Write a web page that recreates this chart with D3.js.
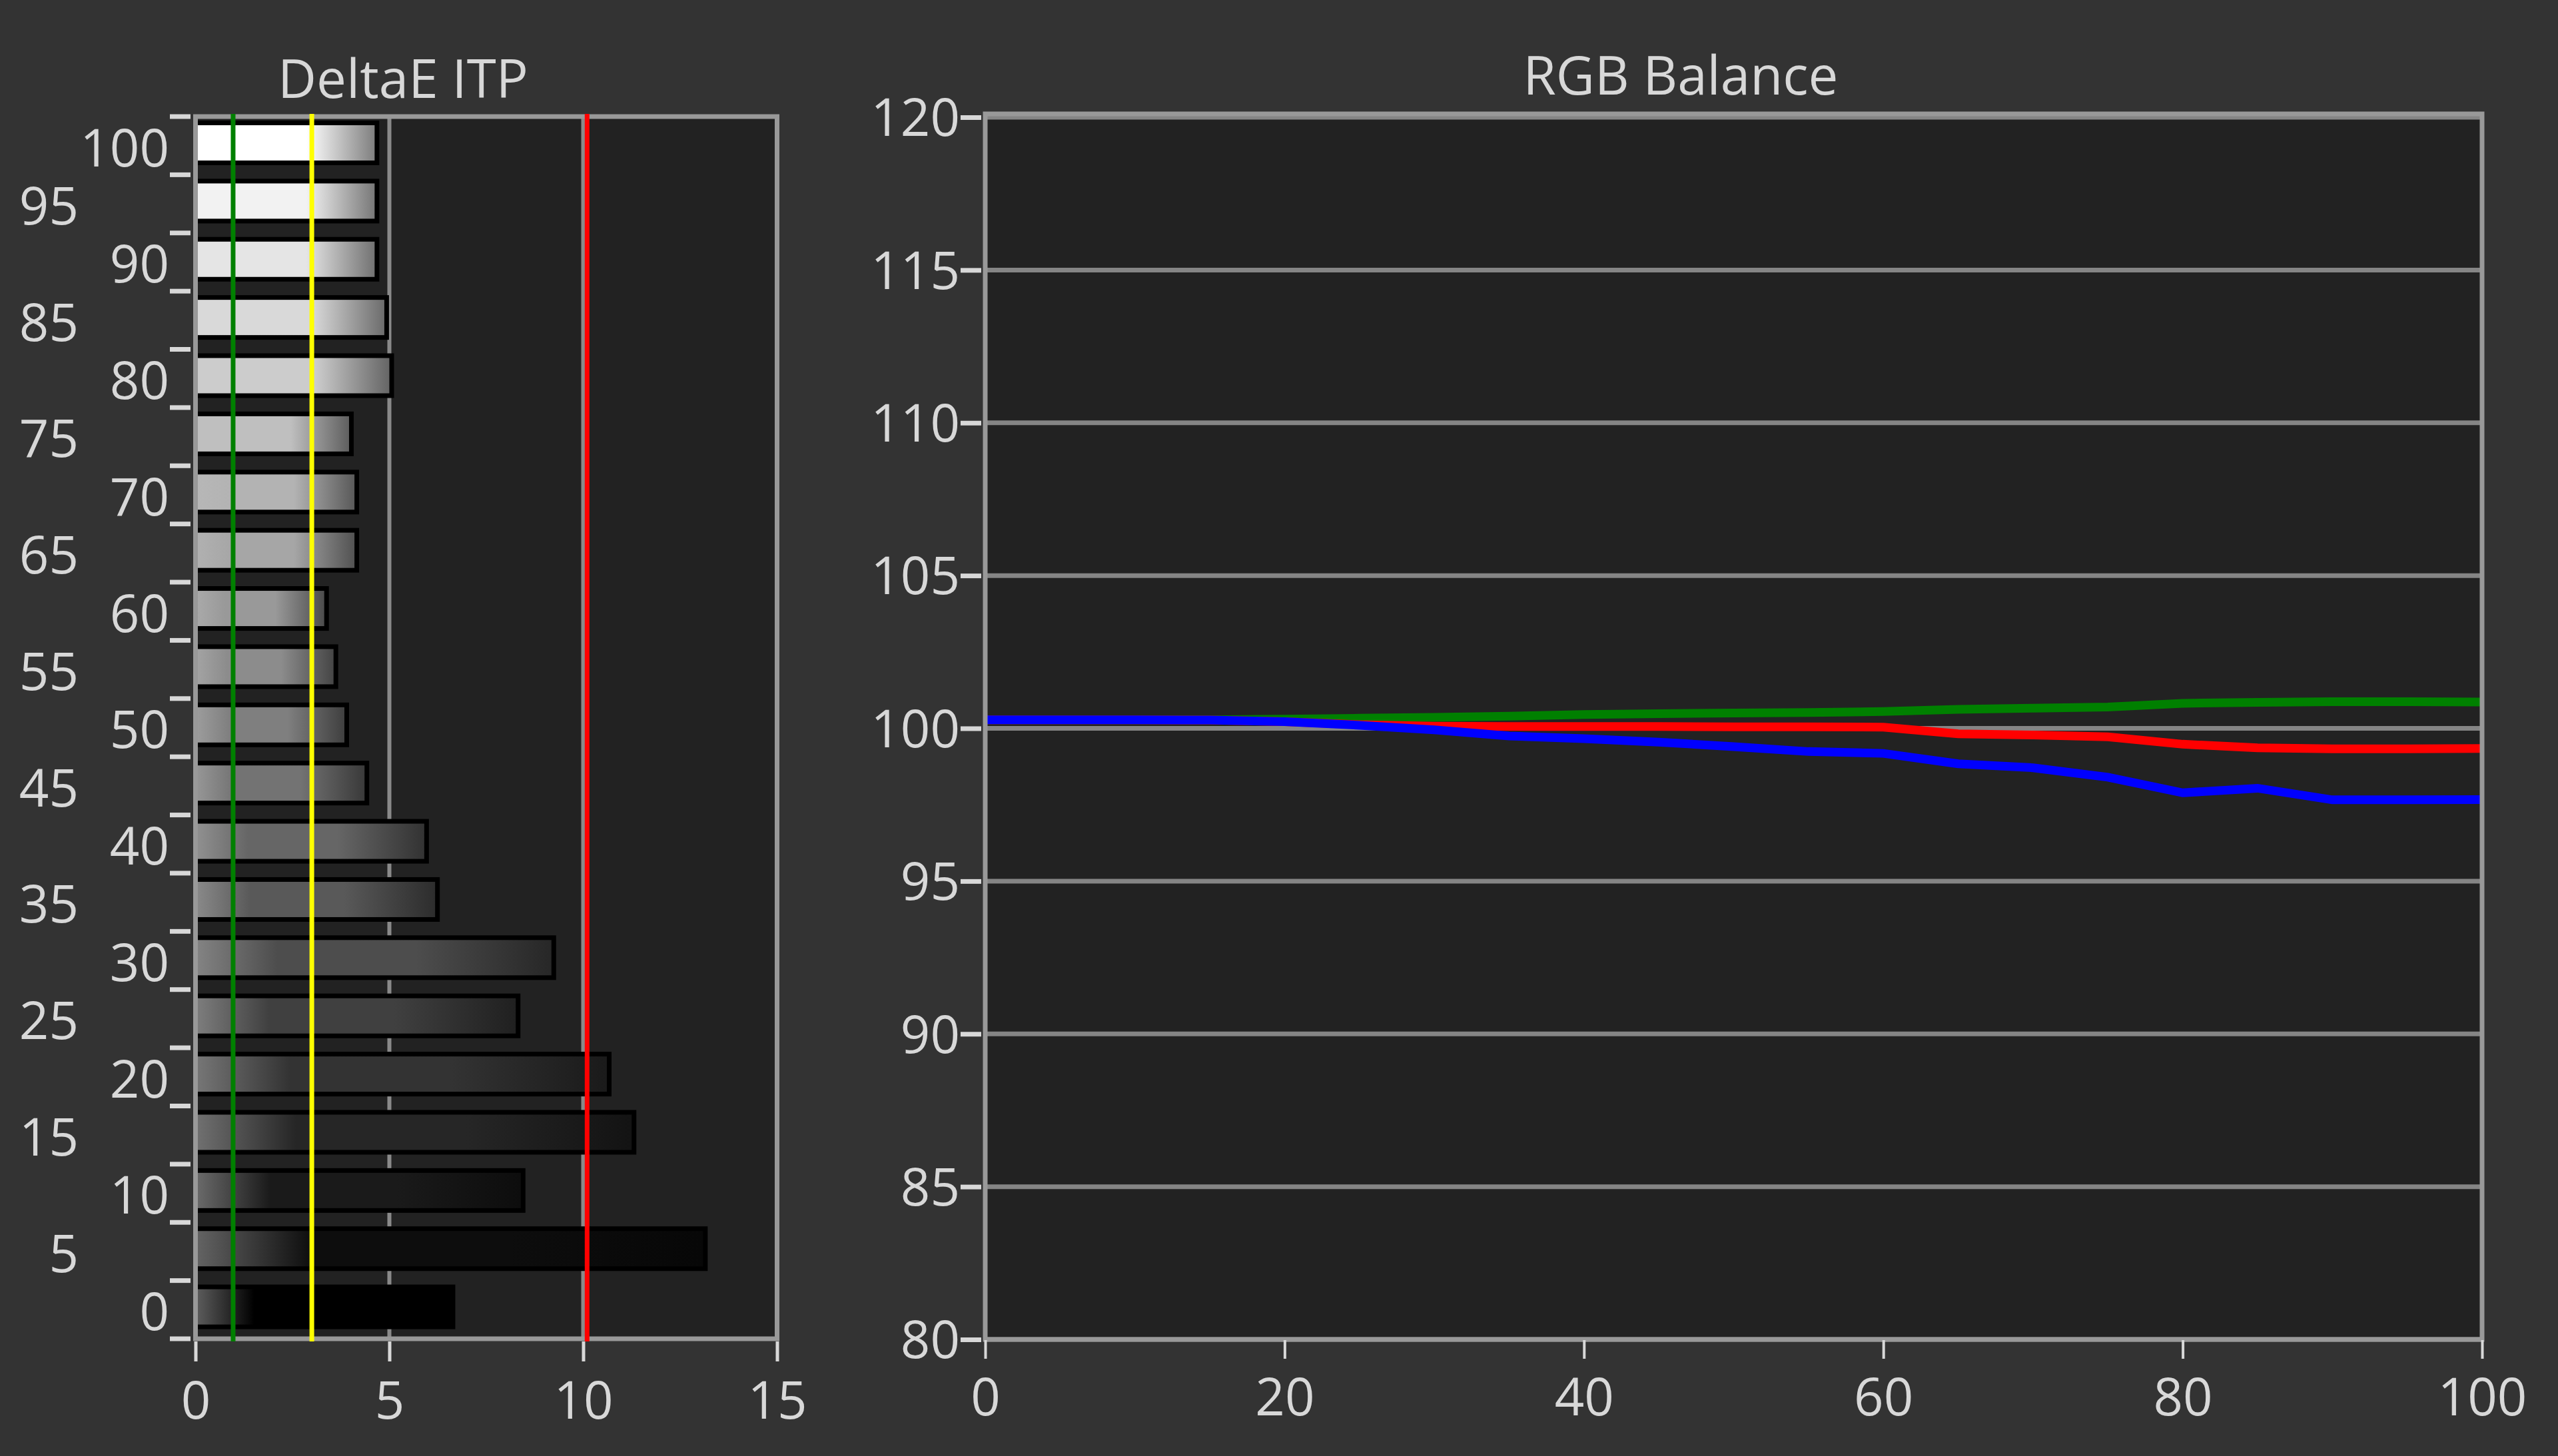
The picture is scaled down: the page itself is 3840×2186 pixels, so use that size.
<!DOCTYPE html>
<html>
<head>
<meta charset="utf-8">
<script src="https://cdn.jsdelivr.net/npm/d3@7"></script>
<style>
  html, body { margin: 0; padding: 0; background: #333333; }
  svg { display: block; }
  text { font-family: "Open Sans", "Noto Sans", sans-serif; fill: #d8d8d8; }
</style>
</head>
<body>
<div id="chart"></div>
<script>
// Grey stimulus levels (top to bottom) and measured DeltaE ITP per level
const levels = [100, 95, 90, 85, 80, 75, 70, 65, 60, 55, 50, 45, 40, 35, 30, 25, 20, 15, 10, 5, 0];
const deltaE = [4.68, 4.68, 4.68, 4.93, 5.06, 4.02, 4.16, 4.16, 3.38, 3.62, 3.90, 4.42, 5.96, 6.24, 9.24, 8.32, 10.67, 11.31, 8.45, 13.15, 6.64];
const deltaTicks = [0, 5, 10, 15];
const deltaGrid = [5, 10];
// Threshold markers on the DeltaE chart
const refValues = [0.97, 3, 10.1];
const refColors = ['#008000', '#ffff00', '#ff0000'];

// RGB balance, stimulus in % and relative level of each channel
const stimulus = [0, 5, 10, 15, 20, 25, 30, 35, 40, 45, 50, 55, 60, 65, 70, 75, 80, 85, 90, 95, 100];
const greenVals = [100.28, 100.28, 100.28, 100.28, 100.30, 100.33, 100.36, 100.40, 100.45, 100.48, 100.50, 100.52, 100.55, 100.62, 100.66, 100.70, 100.82, 100.85, 100.87, 100.87, 100.86];
const redVals = [100.28, 100.28, 100.28, 100.27, 100.22, 100.12, 100.07, 100.06, 100.06, 100.06, 100.05, 100.05, 100.04, 99.82, 99.78, 99.72, 99.48, 99.36, 99.33, 99.33, 99.34];
const blueVals = [100.28, 100.28, 100.28, 100.27, 100.22, 100.10, 99.95, 99.75, 99.66, 99.55, 99.40, 99.24, 99.18, 98.84, 98.71, 98.40, 97.89, 98.04, 97.66, 97.66, 97.67];
const rgbYTicks = [80, 85, 90, 95, 100, 105, 110, 115, 120];
const rgbXTicks = [0, 20, 40, 60, 80, 100];

const W = 3840, H = 2186;
const FONT = 78;
const TEXT = '#d8d8d8';

const svg = d3.select('#chart').append('svg')
    .attr('width', W)
    .attr('height', H);

svg.append('rect').attr('width', W).attr('height', H).attr('fill', '#333333');

const defs = svg.append('defs');

// ---------- DeltaE ITP ----------
const xL = d3.scaleLinear().domain([0, 15]).range([293.5, 1166.5]);
const yL = d3.scaleBand().domain(levels).range([175, 2010]).padding(0);

svg.append('text')
    .attr('x', 605).attr('y', 147)
    .attr('text-anchor', 'middle')
    .attr('font-size', 80)
    .text('DeltaE ITP');

svg.append('rect')
    .attr('x', xL(0)).attr('y', 175)
    .attr('width', xL(15) - xL(0)).attr('height', 2010 - 175)
    .attr('fill', '#222222');

svg.append('g')
    .selectAll('line')
    .data(deltaGrid)
    .enter().append('line')
    .attr('x1', d => xL(d)).attr('x2', d => xL(d))
    .attr('y1', 175).attr('y2', 2010)
    .attr('stroke', '#8a8a8a')
    .attr('stroke-width', 6);

// one gradient per bar, shaded from the grey level it measures
levels.forEach((lv, i) => {
    const base = Math.round(lv * 2.55);
    const hl = Math.max(base, Math.round((base + 187) / 2));
    const dark = Math.round(base * 0.5);
    const g = defs.append('linearGradient')
        .attr('id', 'bar' + i)
        .attr('x1', 0).attr('x2', 1).attr('y1', 0).attr('y2', 0);
    g.append('stop').attr('offset', 0).attr('stop-color', d3.rgb(hl, hl, hl));
    g.append('stop').attr('offset', 0.23).attr('stop-color', d3.rgb(base, base, base));
    g.append('stop').attr('offset', 0.62).attr('stop-color', d3.rgb(base, base, base));
    g.append('stop').attr('offset', 1).attr('stop-color', d3.rgb(dark, dark, dark));
});

const bars = svg.append('g');
bars.selectAll('rect.outer')
    .data(deltaE)
    .enter().append('rect')
    .attr('class', 'outer')
    .attr('x', xL(0))
    .attr('y', (d, i) => yL(levels[i]) + 6)
    .attr('width', d => xL(d) - xL(0) + 3.5)
    .attr('height', 67)
    .attr('fill', '#000000');

bars.selectAll('rect.inner')
    .data(deltaE)
    .enter().append('rect')
    .attr('class', 'inner')
    .attr('x', xL(0))
    .attr('y', (d, i) => yL(levels[i]) + 13)
    .attr('width', d => xL(d) - xL(0) - 3.5)
    .attr('height', 53)
    .attr('fill', (d, i) => `url(#bar${i})`);

svg.append('rect')
    .attr('x', xL(0)).attr('y', 175)
    .attr('width', xL(15) - xL(0)).attr('height', 2010 - 175)
    .attr('fill', 'none')
    .attr('stroke', '#999999')
    .attr('stroke-width', 7);

svg.append('g')
    .selectAll('line')
    .data(refValues)
    .enter().append('line')
    .attr('x1', d => xL(d)).attr('x2', d => xL(d))
    .attr('y1', 171).attr('y2', 2014)
    .attr('stroke', (d, i) => refColors[i])
    .attr('stroke-width', 7);

// tick marks on band edges, labels staggered in two columns
const edges = levels.map(l => yL(l)).concat([yL(0) + yL.bandwidth()]);
svg.append('g')
    .selectAll('line')
    .data(edges)
    .enter().append('line')
    .attr('x1', 255).attr('x2', 286)
    .attr('y1', d => d).attr('y2', d => d)
    .attr('stroke', TEXT)
    .attr('stroke-width', 7);

svg.append('g')
    .selectAll('text')
    .data(levels)
    .enter().append('text')
    .attr('x', d => d % 10 === 0 ? 254 : 118)
    .attr('y', d => yL(d) + yL.bandwidth() / 2 + 3)
    .attr('dy', '0.357em')
    .attr('text-anchor', 'end')
    .attr('font-size', FONT)
    .text(d => d);

const xAxisL = svg.append('g')
    .attr('transform', 'translate(0, 2014)')
    .call(d3.axisBottom(xL).tickValues(deltaTicks).tickSize(30).tickPadding(31));
xAxisL.select('.domain').remove();
xAxisL.selectAll('line').attr('stroke', TEXT).attr('stroke-width', 5);
xAxisL.selectAll('text').attr('font-size', FONT).attr('fill', TEXT).attr('font-family', null);

// ---------- RGB Balance ----------
const xR = d3.scaleLinear().domain([0, 100]).range([1479, 3726]);
const yR = d3.scaleLinear().domain([80, 120]).range([2011, 176]);

svg.append('text')
    .attr('x', 2523).attr('y', 142)
    .attr('text-anchor', 'middle')
    .attr('font-size', 80)
    .text('RGB Balance');

svg.append('rect')
    .attr('x', xR(0)).attr('y', yR(120))
    .attr('width', xR(100) - xR(0)).attr('height', yR(80) - yR(120))
    .attr('fill', '#222222');

svg.append('g')
    .selectAll('line')
    .data(rgbYTicks)
    .enter().append('line')
    .attr('x1', xR(0)).attr('x2', xR(100))
    .attr('y1', d => yR(d)).attr('y2', d => yR(d))
    .attr('stroke', '#858585')
    .attr('stroke-width', 7);

const line = d3.line()
    .x((d, i) => xR(stimulus[i]))
    .y(d => yR(d));

const series = [
    { vals: greenVals, color: '#008000' },
    { vals: redVals, color: '#ff0000' },
    { vals: blueVals, color: '#0000ff' }
];

svg.append('g')
    .selectAll('path')
    .data(series)
    .enter().append('path')
    .attr('d', d => line(d.vals))
    .attr('fill', 'none')
    .attr('stroke', d => d.color)
    .attr('stroke-width', 13);

svg.append('rect')
    .attr('x', xR(0)).attr('y', yR(120) - 5)
    .attr('width', xR(100) - xR(0)).attr('height', yR(80) - yR(120) + 5)
    .attr('fill', 'none')
    .attr('stroke', '#999999')
    .attr('stroke-width', 7);

const yAxisR = svg.append('g')
    .attr('transform', `translate(${xR(0) - 6}, 0)`)
    .call(d3.axisLeft(yR).tickValues(rgbYTicks).tickSize(31).tickPadding(1));
yAxisR.select('.domain').remove();
yAxisR.selectAll('line').attr('stroke', TEXT).attr('stroke-width', 7);
yAxisR.selectAll('text').attr('font-size', FONT).attr('fill', TEXT).attr('font-family', null).attr('dy', '0.357em');

const xAxisR = svg.append('g')
    .attr('transform', `translate(0, ${yR(80) + 1})`)
    .call(d3.axisBottom(xR).tickValues(rgbXTicks).tickSize(28).tickPadding(30));
xAxisR.select('.domain').remove();
xAxisR.selectAll('line').attr('stroke', TEXT).attr('stroke-width', 4);
xAxisR.selectAll('text').attr('font-size', FONT).attr('fill', TEXT).attr('font-family', null);
</script>
</body>
</html>
